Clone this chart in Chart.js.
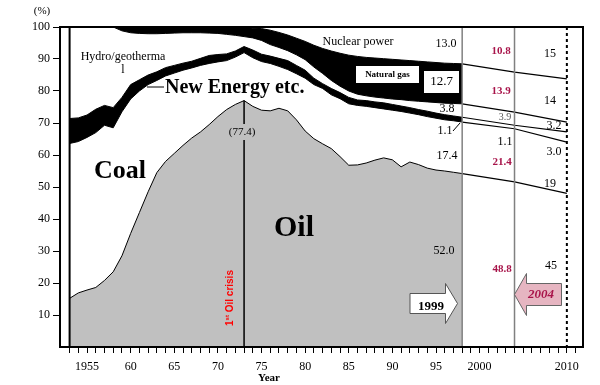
<!DOCTYPE html>
<html><head><meta charset="utf-8">
<script src="https://cdn.jsdelivr.net/npm/chart.js@4.4.1/dist/chart.umd.min.js"></script>
<style>html,body{margin:0;padding:0;background:#fff}#wrap{width:600px;height:385px;position:relative}</style>
</head><body><div id="wrap"><canvas id="c" width="600" height="385"></canvas></div>
<script>
// ---- data (shares of primary energy supply, %) ----
const years = [1953,1954,1955,1956,1957,1958,1959,1960,1961,1962,1963,1964,1965,1966,1967,1968,1969,1970,1971,1972,1973,1974,1975,1976,1977,1978,1979,1980,1981,1982,1983,1984,1985,1986,1987,1988,1989,1990,1991,1992,1993,1994,1995,1996,1997,1998];
const oil = [15.2,16.9,17.8,18.6,20.8,23.5,28.5,35.5,42.0,48.5,54.5,58.0,60.5,63.0,65.3,67.2,69.5,72.0,74.2,75.8,77.0,75.2,74.0,73.8,74.6,73.8,71.0,67.5,65.1,63.5,62.0,59.5,56.8,56.9,57.5,58.4,59.1,58.5,56.3,57.8,57.0,55.9,55.3,55.0,54.6,54.2];
const coal = [48.4,47.3,47.7,48.4,48.5,45.0,45.0,42.0,38.0,33.5,28.8,26.7,25.1,23.5,21.9,20.8,19.1,17.1,15.3,14.8,15.0,15.2,15.2,14.8,13.1,12.9,14.4,16.5,16.9,17.3,16.8,18.1,19.2,18.6,17.7,16.4,15.3,15.5,17.3,15.3,15.6,16.1,16.2,16.0,16.1,16.1];
const newEnergy = [7.8,7.4,7.0,7.3,6.2,6.3,4.5,4.5,3.5,3.0,2.7,2.6,2.4,2.2,2.1,2.2,2.5,2.3,2.1,1.9,1.9,2.4,2.3,2.3,2.5,2.8,2.6,2.5,2.0,1.5,2.0,1.9,2.0,1.7,1.8,1.8,1.9,1.8,1.7,1.7,1.6,1.7,1.6,1.6,1.5,1.5];
const hydro = [28.6,28.4,27.5,25.7,24.5,25.2,20.8,16.2,14.5,12.9,11.9,10.7,10.1,9.5,8.9,8.0,7.0,6.6,6.1,4.9,3.1,3.8,4.3,3.6,3.4,3.1,3.3,3.3,3.5,3.2,2.5,2.0,2.0,1.8,1.5,1.5,1.5,1.7,2.0,2.2,2.6,2.9,3.3,3.6,3.9,4.2];
const natGas = [0,0,0,0,0,0,1.2,1.8,2.0,2.1,2.1,2.0,1.9,1.8,1.8,1.8,1.9,2.0,2.3,2.6,3.0,3.0,3.7,4.5,4.7,4.9,5.2,5.7,6.8,7.8,9.2,10.3,11.2,11.8,12.0,12.2,12.3,12.4,12.4,12.5,12.5,12.5,12.5,12.5,12.5,12.5];
const nuclear = [0,0,0,0,0,0,0,0,0,0,0,0,0,0,0,0,0,0,0,0,0,0.2,0.5,1.0,1.7,2.5,3.5,4.5,5.7,6.7,7.5,8.2,8.8,9.2,9.5,9.7,9.9,10.1,10.3,10.5,10.7,10.9,11.1,11.3,11.4,11.5];
// outlook (drawn lines)
const projYears = [1998, 2004, 2010];
const projOil = [54.2, 51.6, 48.0];
const projCoal = [16.1, 16.6, 16.0];
const projNewEnergy = [1.5, 1.1, 3.2];
const projHydro = [4.2, 4.1, 3.1];
const projGas = [12.5, 12.5, 13.5];
const projNuclear = [11.5, 14.1, 16.2];
const yTickValues = [10,20,30,40,50,60,70,80,90,100];
const xTickLabels = {1955:'1955',1960:'60',1965:'65',1970:'70',1975:'75',1980:'80',1985:'85',1990:'90',1995:'95',2000:'2000',2010:'2010'};

// ---- build stacked boundaries ----
function cumulative(list){ let acc = list[0].map(()=>0); return list.map(s=>{ acc = acc.map((a,i)=>+(a+s[i]).toFixed(2)); return acc; }); }
const hist = cumulative([oil, coal, newEnergy, hydro, natGas]);
const proj = cumulative([projOil, projCoal, projNewEnergy, projHydro, projGas]);
const pts = (xs, ys) => xs.map((x,i)=>({x:x, y:ys[i]}));

const SERIF = '"Liberation Serif", "Times New Roman", serif';
Chart.defaults.font.family = SERIF;
Chart.defaults.color = '#000';

const base = {pointRadius:0, borderColor:'#000', borderWidth:1, tension:0};
const datasets = [
  Object.assign({label:'Oil', data:pts(years,hist[0]), fill:'origin', backgroundColor:'#c0c0c0'}, base),
  Object.assign({label:'Coal', data:pts(years,hist[1]), fill:false}, base),
  Object.assign({label:'New Energy etc.', data:pts(years,hist[2]), fill:'-1', backgroundColor:'#000'}, base),
  Object.assign({label:'Hydro/geothermal', data:pts(years,hist[3]), fill:false}, base),
  Object.assign({label:'Natural gas', data:pts(years,hist[4]), fill:'-1', backgroundColor:'#000'}, base),
];
proj.forEach((p,k)=>datasets.push(Object.assign({label:'proj'+k, data:pts(projYears,p), fill:false}, base, {borderWidth:1.2})));

function txt(ctx, s, x, y, font, color, align){
  ctx.font = font; ctx.fillStyle = color || '#000';
  ctx.textAlign = align || 'center'; ctx.textBaseline = 'middle';
  ctx.fillText(s, x, y);
}

const annot = {
  id:'annot',
  afterDatasetsDraw(chart){
    const ctx = chart.ctx, xs = chart.scales.x, ys = chart.scales.y, a = chart.chartArea;
    const X = v=>xs.getPixelForValue(v), Y = v=>ys.getPixelForValue(v);
    ctx.save();
    // vertical reference lines
    ctx.strokeStyle = '#000'; ctx.lineWidth = 2;
    ctx.beginPath(); ctx.moveTo(X(1953), a.top); ctx.lineTo(X(1953), a.bottom); ctx.stroke();
    ctx.lineWidth = 1.5;
    ctx.beginPath(); ctx.moveTo(X(1973), Y(oil[20])); ctx.lineTo(X(1973), 124); ctx.moveTo(X(1973), 140); ctx.lineTo(X(1973), a.bottom); ctx.stroke();
    ctx.strokeStyle = '#808080'; ctx.lineWidth = 1.5;
    [1998, 2004].forEach(v=>{ ctx.beginPath(); ctx.moveTo(X(v), a.top); ctx.lineTo(X(v), a.bottom); ctx.stroke(); });
    ctx.strokeStyle = '#000'; ctx.lineWidth = 2; ctx.setLineDash([3,3]);
    ctx.beginPath(); ctx.moveTo(X(2010), a.top); ctx.lineTo(X(2010), a.bottom); ctx.stroke();
    ctx.setLineDash([]);
    // frame
    ctx.lineWidth = 2; ctx.strokeStyle = '#000';
    ctx.strokeRect(a.left, a.top, a.right - a.left, a.bottom - a.top);

    // labels
    const f12 = '12px ' + SERIF;
    txt(ctx, '(77.4)', 242, 132, '11px ' + SERIF);
    txt(ctx, 'Hydro/geotherma', 123, 57, f12);
    txt(ctx, 'l', 123, 70, f12);
    txt(ctx, 'New Energy etc.', 165, 88, 'bold 20px ' + SERIF, '#000', 'left');
    ctx.lineWidth = 1; ctx.beginPath(); ctx.moveTo(147, 87); ctx.lineTo(164, 87); ctx.stroke();
    txt(ctx, 'Coal', 120, 171, 'bold 26px ' + SERIF);
    txt(ctx, 'Oil', 294, 228, 'bold 30px ' + SERIF);
    txt(ctx, 'Nuclear power', 358, 42, f12);
    // boxes
    ctx.fillStyle = '#fff';
    ctx.fillRect(356, 66, 63, 17);
    ctx.fillRect(424, 71, 35, 22);
    txt(ctx, 'Natural gas', 387.5, 75, 'bold 9px ' + SERIF);
    txt(ctx, '12.7', 441.5, 82, '13px ' + SERIF);
    // values 1998
    txt(ctx, '13.0', 446, 44, f12);
    txt(ctx, '3.8', 447, 109, f12);
    txt(ctx, '1.1', 445, 131, f12);
    ctx.beginPath(); ctx.moveTo(453, 131); ctx.lineTo(460, 123); ctx.stroke();
    txt(ctx, '17.4', 447, 156, f12);
    txt(ctx, '52.0', 444, 251, f12);
    // values 2004 (red)
    const red = '#a8144a', fr = 'bold 11px ' + SERIF;
    txt(ctx, '10.8', 501, 51, fr, red);
    txt(ctx, '13.9', 501, 91, fr, red);
    txt(ctx, '3.9', 505, 117, '10px ' + SERIF, '#555');
    txt(ctx, '1.1', 505, 142, f12);
    txt(ctx, '21.4', 502, 162, fr, red);
    txt(ctx, '48.8', 502, 269, fr, red);
    // values 2010
    txt(ctx, '15', 550, 54, f12);
    txt(ctx, '14', 550, 101, f12);
    txt(ctx, '3.2', 554, 126, f12);
    txt(ctx, '3.0', 554, 152, f12);
    txt(ctx, '19', 550, 184, f12);
    txt(ctx, '45', 551, 266, f12);
    // axis titles
    txt(ctx, 'Year', 269, 378, 'bold 11px ' + SERIF);
    txt(ctx, '(%)', 42, 11, '11px ' + SERIF);
    // oil crisis rotated label
    ctx.save();
    ctx.translate(229, 298); ctx.rotate(-Math.PI/2);
    ctx.fillStyle = '#ff0000'; ctx.textBaseline = 'alphabetic'; ctx.textAlign = 'left';
    const fb = 'bold 10px "Liberation Sans", Arial, sans-serif', fs = 'bold 6px "Liberation Sans", Arial, sans-serif';
    ctx.font = fb; const w1 = ctx.measureText('1').width, w3 = ctx.measureText(' Oil crisis').width;
    ctx.font = fs; const w2 = ctx.measureText('st').width;
    let sx = -(w1 + w2 + w3)/2;
    ctx.font = fb; ctx.fillText('1', sx, 4);
    ctx.font = fs; ctx.fillText('st', sx + w1, 0);
    ctx.font = fb; ctx.fillText(' Oil crisis', sx + w1 + w2, 4);
    ctx.restore();
    // arrows
    ctx.lineWidth = 1;
    ctx.beginPath();
    ctx.moveTo(410, 293.5); ctx.lineTo(445.5, 293.5); ctx.lineTo(445.5, 283.5); ctx.lineTo(457.5, 303.5);
    ctx.lineTo(445.5, 323.5); ctx.lineTo(445.5, 313.5); ctx.lineTo(410, 313.5); ctx.closePath();
    ctx.fillStyle = '#fff'; ctx.fill(); ctx.strokeStyle = '#555'; ctx.stroke();
    txt(ctx, '1999', 431, 307, 'bold 13px ' + SERIF);
    ctx.beginPath();
    ctx.moveTo(514.5, 294.5); ctx.lineTo(526.5, 273.5); ctx.lineTo(526.5, 283.5); ctx.lineTo(561.5, 283.5);
    ctx.lineTo(561.5, 305.5); ctx.lineTo(526.5, 305.5); ctx.lineTo(526.5, 315.5); ctx.closePath();
    ctx.fillStyle = '#e6b5c1'; ctx.fill(); ctx.strokeStyle = '#666'; ctx.stroke();
    txt(ctx, '2004', 541, 295, 'italic bold 13px ' + SERIF, '#a8144a');
    ctx.restore();
  }
};

new Chart(document.getElementById('c'), {
  type:'line',
  data:{datasets},
  options:{
    responsive:false, animation:false, devicePixelRatio:1,
    layout:{padding:{top:27, right:17, left:0, bottom:0}},
    plugins:{legend:{display:false}, tooltip:{enabled:false}, filler:{propagate:false}},
    scales:{
      x:{type:'linear', min:1951.9, max:2011.85,
         afterBuildTicks:s=>{ const t=[]; for(let v=1953; v<=2011; v++) t.push({value:v}); s.ticks=t; },
         afterFit:s=>{ s.height = 38; },
         ticks:{autoSkip:false, maxRotation:0, padding:7, font:{size:12, family:SERIF}, color:'#000',
                callback:v=>xTickLabels[v] || ''},
         grid:{drawOnChartArea:false, drawTicks:true, tickLength:6, color:'#000', lineWidth:1},
         border:{display:false}},
      y:{min:0, max:100,
         afterBuildTicks:s=>{ s.ticks = yTickValues.map(v=>({value:v})); },
         afterFit:s=>{ s.width = 60; },
         ticks:{padding:3, font:{size:12, family:SERIF}, color:'#000', callback:v=>String(v)},
         grid:{drawOnChartArea:false, drawTicks:true, tickLength:7, color:'#000', lineWidth:1},
         border:{display:false}}
    }
  },
  plugins:[annot]
});
</script></body></html>
